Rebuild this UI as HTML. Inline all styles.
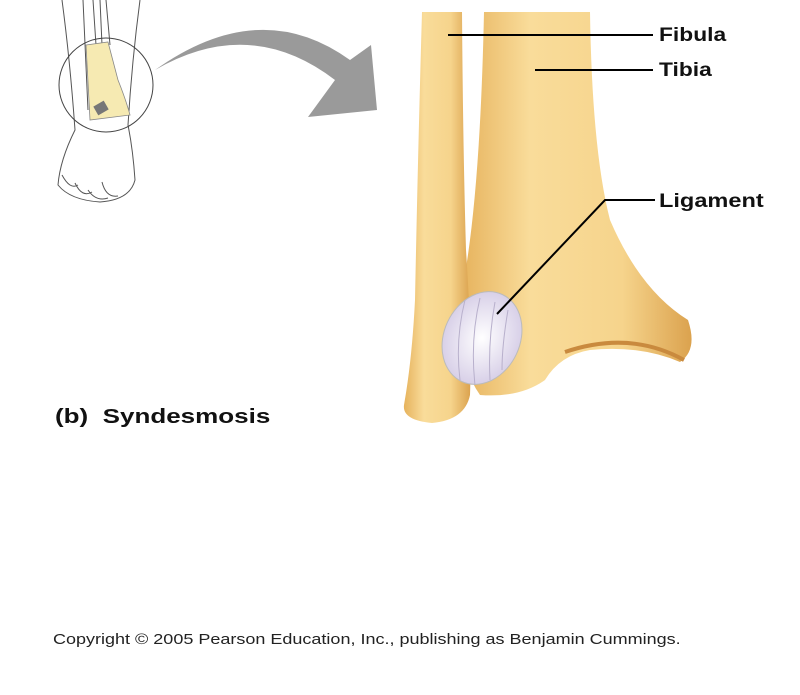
<!DOCTYPE html>
<html><head><style>
body{margin:0;width:800px;height:695px;background:#fff;overflow:hidden;position:relative;font-family:"Liberation Sans",Arial,sans-serif}
.l{position:absolute;font-weight:bold;font-size:19px;color:#111;transform-origin:0 0;white-space:nowrap}
</style></head><body>
<svg width="800" height="695" style="position:absolute;left:0;top:0">
<defs>
<linearGradient id="b" x1="0" x2="1"><stop offset="0" stop-color="#e6b25c"/><stop offset="0.3" stop-color="#f9dc9a"/><stop offset="0.7" stop-color="#f6d48c"/><stop offset="1" stop-color="#dba24e"/></linearGradient>
<radialGradient id="lg"><stop offset="0" stop-color="#fff"/><stop offset="1" stop-color="#d8d0e8"/></radialGradient>
</defs>
<g fill="none" stroke="#555" stroke-width="1">
<path d="M62 0 Q70 60 75 130 Q60 160 58 185 Q70 200 100 202 Q130 200 135 180 Q133 150 128 125 Q132 60 140 0"/>
<path d="M83 0 L88 110 M93 0 L96 45 M100 0 L102 45 M106 0 L110 45"/>
<path d="M62 175 Q70 190 78 185 M75 183 Q82 198 92 192 M88 190 Q96 202 108 198 M102 182 Q106 198 118 196"/>
<circle cx="106" cy="85" r="47" stroke="#444"/>
</g>
<path d="M86 45 L108 42 L118 80 Q126 100 130 115 L90 120 Z" fill="#f6eab2" stroke="#888" stroke-width="0.8"/>
<rect x="95" y="103" width="12" height="10" fill="#777" transform="rotate(-30 101 108)"/>
<path d="M155 70 Q250 15 335 80 L308 117 L377 110 L371 45 L350 60 Q260 -5 155 70 Z" fill="#9a9a9a"/>
<!-- tibia -->
<path d="M484 12 L590 12 Q592 150 610 220 Q640 290 688 320 Q698 350 680 362 Q640 345 590 350 Q560 355 545 380 Q520 398 480 395 Q455 360 462 290 Q480 200 484 12 Z" fill="url(#b)"/>
<path d="M565 352 Q630 330 684 360" stroke="#c98a3e" stroke-width="4" fill="none"/>
<!-- fibula -->
<path d="M422 12 L462 12 Q463 150 466 250 Q472 340 470 395 Q465 420 432 423 Q402 420 404 405 Q412 360 415 300 Q418 150 422 12 Z" fill="url(#b)"/>
<ellipse cx="482" cy="338" rx="38" ry="48" transform="rotate(25 482 338)" fill="url(#lg)" stroke="#bbb" stroke-width="1"/>
<g stroke="#b8b0cc" stroke-width="1" fill="none"><path d="M465 300 Q455 340 460 380 M480 298 Q470 340 475 385 M495 302 Q488 340 490 380 M508 310 Q502 345 502 370"/></g>
<g stroke="#000" stroke-width="2" fill="none">
<path d="M448 35 H653"/><path d="M535 70 H653"/><path d="M497 314 L605 200 H655"/>
</g>
</svg>
<div class="l" style="left:659px;top:25px;transform:scaleX(1.2)">Fibula</div>
<div class="l" style="left:659px;top:60px;transform:scaleX(1.2)">Tibia</div>
<div class="l" style="left:659px;top:191px;transform:scaleX(1.24)">Ligament</div>
<div class="l" style="left:55px;top:406px;font-size:20px;transform:scaleX(1.3)">(b)&nbsp; Syndesmosis</div>
<div style="position:absolute;left:53px;top:631px;font-size:15px;color:#222;transform:scaleX(1.2);transform-origin:0 0;white-space:nowrap">Copyright © 2005 Pearson Education, Inc., publishing as Benjamin Cummings.</div>
</body></html>
